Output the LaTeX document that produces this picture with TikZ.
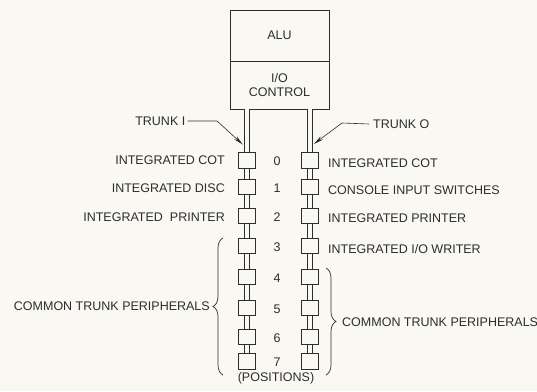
\documentclass[tikz,border=0pt]{standalone}
\usepackage{fontspec}
\setmainfont{Liberation Sans}
\usetikzlibrary{arrows.meta,decorations.pathreplacing}
\definecolor{bg}{RGB}{249,248,242}
\definecolor{ink}{RGB}{45,45,45}
\begin{document}
\begin{tikzpicture}[x=1pt,y=-1pt,
  font=\fontsize{12.5}{14.7}\selectfont,
  bigbox/.style={draw=ink, line width=0.8pt, minimum width=99pt, inner sep=0pt, text=ink, align=center},
  slot/.style={draw=ink, line width=0.7pt, minimum width=17pt, minimum height=15.5pt, inner sep=0pt, fill=bg},
  trunk/.style={draw=ink, line width=0.6pt, double=bg, double distance=4.8pt},
  lbl/.style={text=ink, inner sep=0pt},
  arr/.style={draw=ink, line width=0.6pt, -{Stealth[length=10pt,width=4pt]}},
  brc/.style={draw=ink, line width=0.7pt, decorate, decoration={brace, amplitude=10pt}}]
\fill[bg] (0,0) rectangle (537,391);
\useasboundingbox (0,0) rectangle (537,391);

% ALU and I/O control
\node[bigbox, minimum height=51pt] (alu) at (279.5,35.5) {ALU};
\node[bigbox, minimum height=48pt] (ioc) at (279.5,85) {I/O\\CONTROL};

% slots
\foreach \i/\y in {0/160.5,1/186.7,2/216,3/246,4/277,5/308,6/336.7,7/361.5}{
  \node[slot] (L\i) at (247,\y) {};
  \node[slot] (R\i) at (310,\y) {};
  \node[lbl] (P\i) at (277,\y+1) {\i};
}

% trunks
\draw[trunk] (L0.north |- ioc.south) -- (L0.north);
\draw[trunk] (R0.north |- ioc.south) -- (R0.north);
\foreach \i [count=\j from 1] in {0,...,6}{
  \draw[trunk] (L\i.south) -- (L\j.north);
  \draw[trunk] (R\i.south) -- (R\j.north);
}
% redraw slots on top
\foreach \i in {0,...,7}{
  \node[slot] at (L\i) {};
  \node[slot] at (R\i) {};
}

\node[lbl] (pos) at (276,378.5) {(POSITIONS)};

% trunk labels and arrows
\node[lbl, anchor=east] (tI) at (185.5,121) {TRUNK I};
\coordinate (bI) at (217,121);
\coordinate (eI) at (242.8,144.5);
\draw[arr] ([xshift=2pt]tI.east) -- (bI) -- (eI);

\node[lbl, anchor=west] (tO) at (373,124) {TRUNK O};
\coordinate (bO) at (342,123);
\coordinate (eO) at (313.8,144);
\draw[arr] ([xshift=-4pt]tO.west) -- (bO) -- (eO);

% left labels
\node[lbl, anchor=east] (l0) at (225,160.5) {INTEGRATED COT};
\node[lbl, anchor=east] (l1) at (225,188) {INTEGRATED DISC};
\node[lbl, anchor=east] (l2) at (225,216.7) {INTEGRATED\ \ PRINTER};

% right labels
\node[lbl, anchor=west] (r0) at (328,163) {INTEGRATED COT};
\node[lbl, anchor=west] (r1) at (328,190) {CONSOLE INPUT SWITCHES};
\node[lbl, anchor=west] (r2) at (328,218.3) {INTEGRATED PRINTER};
\node[lbl, anchor=west] (r3) at (328,249) {INTEGRATED I/O WRITER};

% braces
\coordinate (lbB) at (223,375);
\coordinate (lbT) at (223,238);
\draw[brc] (lbB) -- (lbT);
\node[lbl, anchor=east] (lc) at (210,306) {COMMON TRUNK PERIPHERALS};

\coordinate (rbT) at (326,268);
\coordinate (rbB) at (326,375);
\draw[brc] (rbT) -- (rbB);
\node[lbl, anchor=west] (rc) at (342,322) {COMMON TRUNK PERIPHERALS};
\end{tikzpicture}
\end{document}
